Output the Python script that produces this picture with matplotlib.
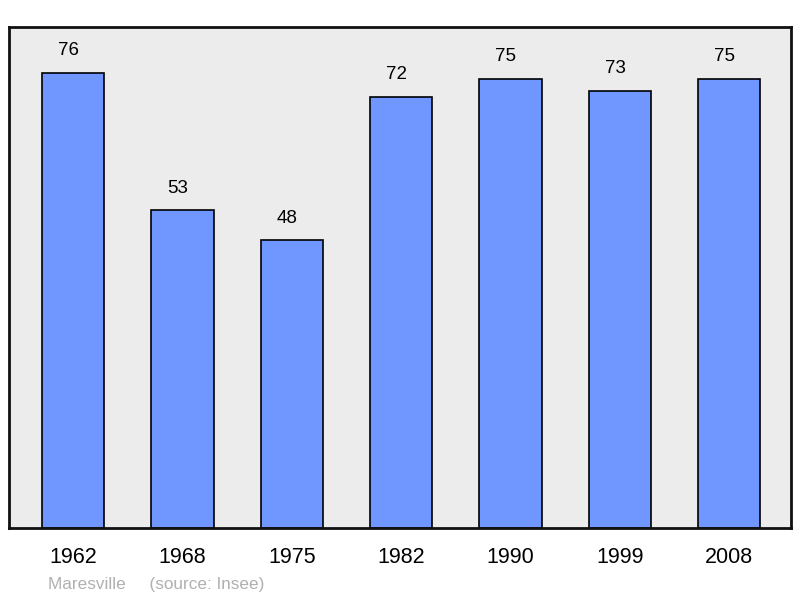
import matplotlib.pyplot as plt

plt.rcParams['font.family'] = ['Liberation Sans', 'DejaVu Sans']

years = ['1962', '1968', '1975', '1982', '1990', '1999', '2008']
population = [76, 53, 48, 72, 75, 73, 75]

W, H = 800, 598
fig = plt.figure(figsize=(W / 100, H / 100), dpi=100)
ax = fig.add_axes([9 / W, 1 - 528 / H, (791 - 9) / W, (528 - 27) / H])
ax.set_facecolor('#ececec')

x = list(range(len(years)))
ax.bar(x, population, width=0.57, color='#7096ff', edgecolor='black',
       linewidth=1.2, zorder=2)

# value labels sit a little left of the bar centre, as in the original
for xi, v in zip(x, population):
    ax.annotate(str(v), (xi, v), xytext=(-3.3, 16), textcoords='offset points',
                ha='center', va='center', fontsize=13.5)

ax.set_xlim(-0.585, 6.565)
ax.set_ylim(0, 83.6)
ax.set_yticks([])
ax.set_xticks(x)
ax.set_xticklabels(years, fontsize=15.5)
ax.tick_params(axis='x', length=0, pad=14)
for s in ax.spines.values():
    s.set_linewidth(2)
    s.set_color('#111111')

fig.text(48 / W, 1 - 584 / H, 'Maresville     (source: Insee)', fontsize=12.3,
         color='#b0b0b0', va='center', ha='left')

fig.savefig('out.png', dpi=100)
